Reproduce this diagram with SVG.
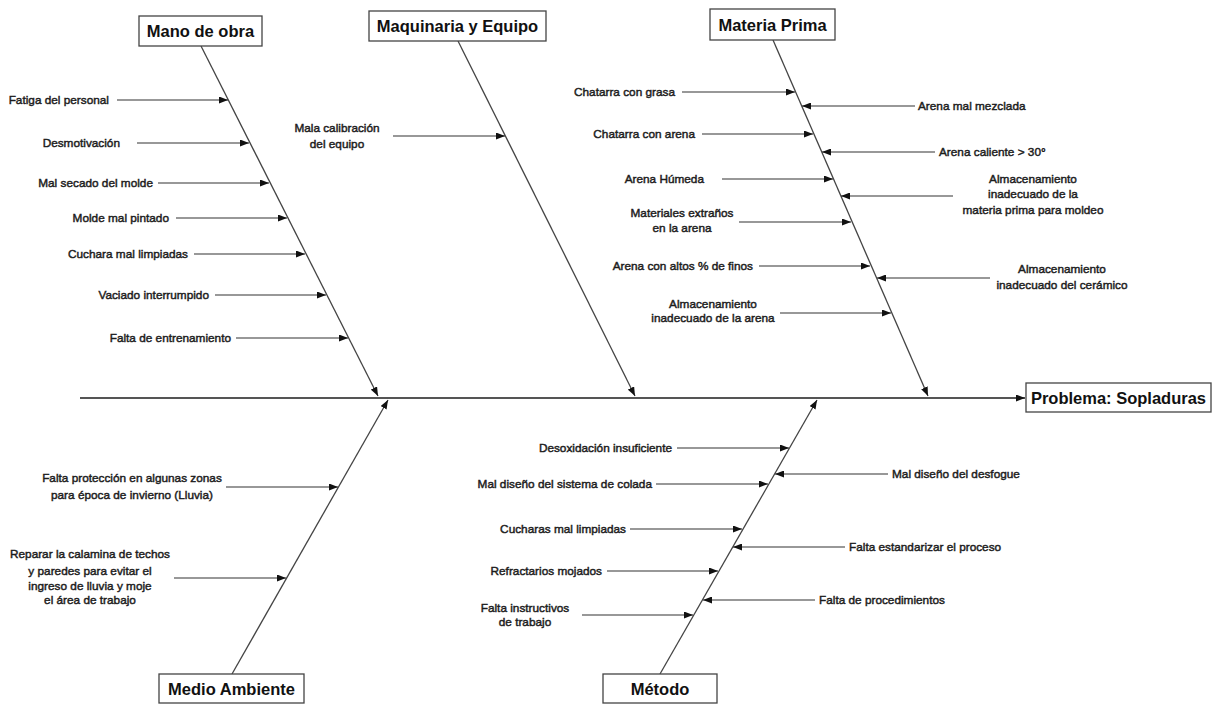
<svg xmlns="http://www.w3.org/2000/svg" width="1212" height="704" viewBox="0 0 1212 704">
<style>
.lbl{font-family:"Liberation Sans",Arial,sans-serif;font-size:11.8px;fill:#1c1c1c;stroke:#1c1c1c;stroke-width:0.45}
.ttl{font-family:"Liberation Sans",Arial,sans-serif;font-size:16.5px;font-weight:bold;fill:#111;text-anchor:middle}
.box{fill:#fff;stroke:#444;stroke-width:1.3}
.ln{stroke:#333;stroke-width:1.2;fill:none;marker-end:url(#ah)}
.bone{stroke:#444;stroke-width:1.3;fill:none;marker-end:url(#ah)}
.spine{stroke:#555;stroke-width:2;fill:none;marker-end:url(#ah)}
.e{text-anchor:end}
.m{text-anchor:middle}
.s{text-anchor:start}
</style>
<defs>
<marker id="ah" markerUnits="userSpaceOnUse" markerWidth="9" markerHeight="7" refX="9" refY="3.5" orient="auto">
<path d="M0,0 L9,3.5 L0,7 z" fill="#111"/>
</marker>
</defs>
<rect width="1212" height="704" fill="#fff"/>

<g id="connectors">
<line class="spine" x1="80" y1="398" x2="1025" y2="398"/>
<line class="bone" x1="201" y1="46" x2="378" y2="396"/>
<line class="bone" x1="458" y1="41" x2="635" y2="396"/>
<line class="bone" x1="773" y1="40" x2="928" y2="396"/>
<line class="bone" x1="232" y1="674" x2="388" y2="400"/>
<line class="bone" x1="660" y1="674" x2="817" y2="400"/>
<line class="ln" x1="117" y1="100" x2="228" y2="100"/>
<line class="ln" x1="137" y1="143" x2="249" y2="143"/>
<line class="ln" x1="158" y1="183" x2="269" y2="183"/>
<line class="ln" x1="176" y1="218" x2="287" y2="218"/>
<line class="ln" x1="194" y1="254" x2="305" y2="254"/>
<line class="ln" x1="215" y1="295" x2="326" y2="295"/>
<line class="ln" x1="236" y1="338" x2="348" y2="338"/>
<line class="ln" x1="393" y1="136" x2="505" y2="136"/>
<line class="ln" x1="682" y1="92" x2="795" y2="92"/>
<line class="ln" x1="702" y1="134" x2="813" y2="134"/>
<line class="ln" x1="722" y1="179" x2="833" y2="179"/>
<line class="ln" x1="739" y1="222" x2="851" y2="222"/>
<line class="ln" x1="759" y1="266" x2="870" y2="266"/>
<line class="ln" x1="780" y1="313" x2="891" y2="313"/>
<line class="ln" x1="915" y1="106" x2="802" y2="106"/>
<line class="ln" x1="935" y1="152" x2="822" y2="152"/>
<line class="ln" x1="953" y1="196" x2="841" y2="196"/>
<line class="ln" x1="990" y1="278" x2="877" y2="278"/>
<line class="ln" x1="226" y1="487" x2="338" y2="487"/>
<line class="ln" x1="174" y1="578" x2="286" y2="578"/>
<line class="ln" x1="677" y1="448" x2="789" y2="448"/>
<line class="ln" x1="656" y1="484" x2="768" y2="484"/>
<line class="ln" x1="630" y1="529" x2="742" y2="529"/>
<line class="ln" x1="607" y1="571" x2="718" y2="571"/>
<line class="ln" x1="582" y1="615" x2="693" y2="615"/>
<line class="ln" x1="888" y1="474" x2="775" y2="474"/>
<line class="ln" x1="845" y1="547" x2="733" y2="547"/>
<line class="ln" x1="815" y1="600" x2="703" y2="600"/>
</g>

<g id="mano-de-obra">
<rect class="box" x="139" y="16" width="123" height="30"/>
<text class="ttl" x="200.5" y="37">Mano de obra</text>
<text class="lbl e" x="109" y="104">Fatiga del personal</text>
<text class="lbl e" x="120" y="147">Desmotivación</text>
<text class="lbl e" x="153" y="187">Mal secado del molde</text>
<text class="lbl e" x="169" y="222">Molde mal pintado</text>
<text class="lbl e" x="188" y="258">Cuchara mal limpiadas</text>
<text class="lbl e" x="209" y="299">Vaciado interrumpido</text>
<text class="lbl e" x="231" y="342">Falta de entrenamiento</text>
</g>

<g id="maquinaria-y-equipo">
<rect class="box" x="369" y="11" width="177" height="30"/>
<text class="ttl" x="457.5" y="32">Maquinaria y Equipo</text>
<text class="lbl m" x="337" y="132">Mala calibración</text>
<text class="lbl m" x="337" y="148">del equipo</text>
</g>

<g id="materia-prima">
<rect class="box" x="710" y="9" width="125" height="31"/>
<text class="ttl" x="772.5" y="31">Materia Prima</text>
<text class="lbl e" x="675" y="96">Chatarra con grasa</text>
<text class="lbl e" x="695" y="138">Chatarra con arena</text>
<text class="lbl e" x="704" y="183">Arena Húmeda</text>
<text class="lbl m" x="682" y="217">Materiales extraños</text>
<text class="lbl m" x="682" y="232">en la arena</text>
<text class="lbl e" x="753" y="270">Arena con altos % de finos</text>
<text class="lbl m" x="713" y="308">Almacenamiento</text>
<text class="lbl m" x="713" y="322">inadecuado de la arena</text>
<text class="lbl s" x="918" y="110">Arena mal mezclada</text>
<text class="lbl s" x="939" y="156">Arena caliente &gt; 30°</text>
<text class="lbl m" x="1033" y="183">Almacenamiento</text>
<text class="lbl m" x="1033" y="198">inadecuado de la</text>
<text class="lbl m" x="1033" y="214">materia prima para moldeo</text>
<text class="lbl m" x="1062" y="273">Almacenamiento</text>
<text class="lbl m" x="1062" y="289">inadecuado del cerámico</text>
</g>

<g id="medio-ambiente">
<rect class="box" x="159" y="674" width="145" height="29"/>
<text class="ttl" x="231.5" y="695">Medio Ambiente</text>
<text class="lbl m" x="132" y="482">Falta protección en algunas zonas</text>
<text class="lbl m" x="132" y="499">para época de invierno (Lluvia)</text>
<text class="lbl m" x="90" y="558">Reparar la calamina de techos</text>
<text class="lbl m" x="90" y="575">y paredes para evitar el</text>
<text class="lbl m" x="90" y="590">ingreso de lluvia y moje</text>
<text class="lbl m" x="90" y="604">el área de trabajo</text>
</g>

<g id="metodo">
<rect class="box" x="603" y="674" width="114" height="29"/>
<text class="ttl" x="660" y="695">Método</text>
<text class="lbl e" x="672" y="452">Desoxidación insuficiente</text>
<text class="lbl e" x="652" y="488">Mal diseño del sistema de colada</text>
<text class="lbl e" x="626" y="533">Cucharas mal limpiadas</text>
<text class="lbl e" x="602" y="575">Refractarios mojados</text>
<text class="lbl m" x="525" y="612">Falta instructivos</text>
<text class="lbl m" x="525" y="626">de trabajo</text>
<text class="lbl s" x="892" y="478">Mal diseño del desfogue</text>
<text class="lbl s" x="849" y="551">Falta estandarizar el proceso</text>
<text class="lbl s" x="819" y="604">Falta de procedimientos</text>
</g>

<g id="problema">
<rect class="box" x="1026" y="383" width="185" height="29"/>
<text class="ttl" x="1118.5" y="404">Problema: Sopladuras</text>
</g>
</svg>
